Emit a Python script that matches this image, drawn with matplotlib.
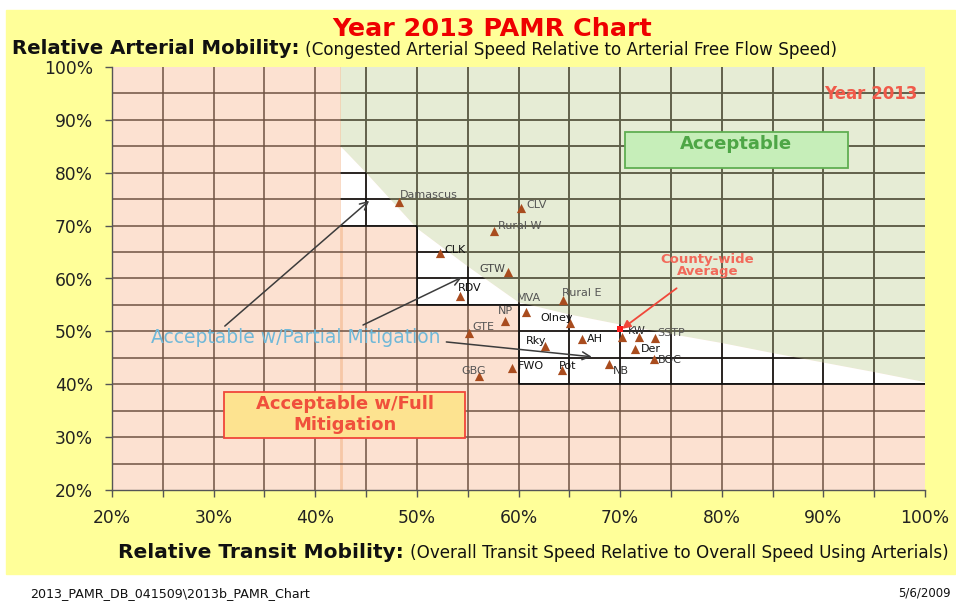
"""Year 2013 PAMR chart (arterial vs transit mobility), rebuilt from the slide."""
import numpy as np
import matplotlib
matplotlib.use("Agg")
import matplotlib.pyplot as plt
from matplotlib.patches import Polygon, Rectangle

plt.rcParams.update({"font.family": "DejaVu Sans"})

# ---- policy areas: (transit mobility %, arterial mobility %) ----
names = ["Damascus", "CLV", "Rural W", "CLK", "GTW", "RDV", "Rural E", "MVA", "NP", "Olney",
         "GTE", "KW", "", "SSTP", "AH", "Rky", "Der", "BOC", "FWO", "Pot", "NB", "GBG"]
transit = [48.2, 60.2, 57.6, 52.3, 59.0, 54.2, 64.4, 60.7, 58.7, 65.1,
           55.1, 70.2, 71.9, 73.4, 66.2, 62.6, 71.5, 73.3, 59.4, 64.3, 68.9, 56.1]
arterial = [74.4, 73.3, 68.9, 64.9, 61.3, 56.7, 56.0, 53.6, 52.0, 51.5,
            49.7, 49.0, 49.0, 48.7, 48.5, 47.3, 46.6, 44.8, 43.0, 42.7, 43.8, 41.5]
avg_transit, avg_arterial = 70.0, 50.5

# acceptable-area boundary (green above it) and the partial-mitigation steps
bnd_x = [42.5, 45, 50, 55, 60, 65, 70, 75, 80, 85, 90, 95, 100]
bnd_y = [85.0, 80.0, 69.5, 62.3, 55.5, 53.2, 51.3, 49.5, 47.8, 45.9, 44.1, 42.3, 40.4]
step_x = [100, 60, 60, 50, 50, 42.5]
step_y = [40, 40, 55, 55, 70, 70]

# label placement (offset in points, ha, colour)
LAB = {
    "Damascus": (1, 5, "left", "#555555"), "CLV": (4, 2, "left", "#555555"),
    "Rural W": (3, 4, "left", "#555555"), "CLK": (3, 2, "left", "#111111"),
    "GTW": (-2, 2, "right", "#444444"), "RDV": (-1, 6, "left", "#111111"),
    "Rural E": (-1, 5, "left", "#555555"), "MVA": (-6, 10, "left", "#555555"),
    "NP": (0, 7, "center", "#555555"), "Olney": (2, 4, "right", "#111111"),
    "GTE": (3, 4, "left", "#555555"), "KW": (4, 4, "left", "#333333"),
    "SSTP": (2, 4, "left", "#555555"), "AH": (4, 0, "left", "#111111"),
    "Rky": (1, 3, "right", "#111111"), "Der": (4, 0, "left", "#111111"),
    "BOC": (3, -1, "left", "#333333"), "FWO": (4, 2, "left", "#111111"),
    "Pot": (4, 3, "center", "#111111"), "NB": (3, -5, "left", "#333333"),
    "GBG": (-4, 4, "center", "#555555"),
}

PINK, GREEN, YELLOW = "#fce1d1", "#e6ecd5", "#ffff99"

fig = plt.figure(figsize=(9.56, 6.01), dpi=100)
fig.patches.append(Rectangle((6 / 956, 1 - 574 / 601), 949 / 956, 564 / 601,
                             transform=fig.transFigure, color=YELLOW, zorder=-5))
ax = fig.add_axes([112 / 956, 1 - 490 / 601, 813 / 956, 423 / 601])
ax.set_facecolor(PINK)
ax.set_xlim(20, 100); ax.set_ylim(20, 100)

green = Polygon([(42.5, 100)] + list(zip(bnd_x, bnd_y)) + [(100, 100)],
                closed=True, fc=GREEN, ec="none", zorder=1)
white = Polygon(list(zip(bnd_x, bnd_y)) + list(zip(step_x, step_y)),
                closed=True, fc="white", ec="none", zorder=1)
ax.add_patch(green); ax.add_patch(white)
ax.axvline(42.5, color="#f6c7a6", lw=2.0, zorder=0.5)

gx = np.arange(25, 100, 5); gy = np.arange(25, 100, 5)
for col, clip in [("#6e5242", None), ("#5a6048", green), ("#111111", white)]:
    v = ax.vlines(gx, 20, 100, colors=col, lw=1.1, zorder=2)
    h = ax.hlines(gy, 20, 100, colors=col, lw=1.1, zorder=2)
    if clip is not None:
        v.set_clip_path(clip); h.set_clip_path(clip)
ax.plot([42.5, 50, 50, 60, 60, 100], [70, 70, 55, 55, 40, 40], color="#111111", lw=1.1, zorder=2)

# policy areas
ax.scatter(transit, arterial, marker="^", s=44, color="#a94c1e", zorder=5, lw=0)
for n, x, y in zip(names, transit, arterial):
    if not n:
        continue
    dx, dy, ha, c = LAB[n]
    ax.annotate(n, (x, y), xytext=(dx, dy), textcoords="offset points", ha=ha, va="center",
                fontsize=8, color=c, zorder=6)

# county-wide average
ax.scatter([avg_transit], [avg_arterial], marker="s", s=18, color="#ff1a1a", zorder=6, lw=0)
ax.annotate("County-wide\nAverage", (avg_transit + 0.2, avg_arterial), xytext=(78.6, 62.5),
            ha="center", va="center", fontsize=9.5, fontweight="bold", color="#f2695a",
            linespacing=0.95, zorder=6,
            arrowprops=dict(arrowstyle="-|>", color="#f0483a", lw=1.3, shrinkA=9, shrinkB=0,
                            mutation_scale=12))

# region labels
ax.add_patch(Rectangle((70.5, 80.9), 21.9, 6.9, fc="#c6eeb9", ec="#5fae52", lw=1.3, zorder=3))
ax.text(81.4, 85.5, "Acceptable", ha="center", va="center", fontsize=13, fontweight="bold",
        color="#4ea646", zorder=4)
ax.text(99.3, 94.8, "Year 2013", ha="right", va="center", fontsize=12, fontweight="bold",
        color="#f05a4a", zorder=4)
ax.add_patch(Rectangle((31.0, 29.9), 23.7, 8.7, fc="#fde390", ec="#f0463a", lw=1.3, zorder=3))
ax.text(42.9, 34.3, "Acceptable w/Full\nMitigation", ha="center", va="center", fontsize=13,
        fontweight="bold", color="#f0503c", linespacing=1.2, zorder=4)
ax.text(38.1, 48.9, "Acceptable w/Partial Mitigation", ha="center", va="center", fontsize=13.5,
        color="#70b8d8", zorder=4)
arr = dict(arrowstyle="->", color="#3c3c3c", lw=1.1, shrinkA=0, shrinkB=0, mutation_scale=14)
for (x0, y0), (x1, y1) in [((31.1, 51.0), (45.3, 74.7)), ((44.7, 51.2), (54.4, 60.2)),
                           ((52.9, 48.0), (67.2, 45.2))]:
    ax.annotate("", (x1, y1), xytext=(x0, y0), arrowprops=arr, zorder=4)

# axes cosmetics
for s in ("top", "right"):
    ax.spines[s].set_visible(False)
for s in ("left", "bottom"):
    ax.spines[s].set_color("#555555"); ax.spines[s].set_linewidth(1.0)
ax.set_xticks(np.arange(20, 101, 10)); ax.set_xticks(np.arange(25, 100, 10), minor=True)
ax.set_yticks(np.arange(20, 101, 10))
ax.set_xticklabels([f"{v}%" for v in range(20, 101, 10)])
ax.set_yticklabels([f"{v}%" for v in range(20, 101, 10)])
ax.tick_params(which="both", direction="out", length=5, width=1, color="#555555",
               labelsize=12.3, labelcolor="#222222", pad=8.5)
ax.tick_params(axis="y", which="minor", length=0)

# titles
fig.text(0.515, 1 - 29 / 601, "Year 2013 PAMR Chart", ha="center", va="center",
         fontsize=18.3, fontweight="bold", color="#ee0000")
fig.text(12 / 956, 1 - 49 / 601, "Relative Arterial Mobility:", ha="left", va="center",
         fontsize=14.2, fontweight="bold", color="#111111")
fig.text(305 / 956, 1 - 50 / 601, "(Congested Arterial Speed Relative to Arterial Free Flow Speed)",
         ha="left", va="center", fontsize=12.1, color="#111111")
fig.text(118 / 956, 1 - 552 / 601, "Relative Transit Mobility:", ha="left", va="center",
         fontsize=14.5, fontweight="bold", color="#111111")
fig.text(410 / 956, 1 - 553 / 601, "(Overall Transit Speed Relative to Overall Speed Using Arterials)",
         ha="left", va="center", fontsize=12.1, color="#111111")
fig.text(30 / 956, 1 - 597 / 601, "2013_PAMR_DB_041509\\2013b_PAMR_Chart", ha="left",
         va="baseline", fontsize=9.1, color="#111111")
fig.text(951 / 956, 1 - 597 / 601, "5/6/2009", ha="right", va="baseline", fontsize=8.5,
         color="#111111")

fig.savefig("out.png", dpi=100, facecolor="white")
